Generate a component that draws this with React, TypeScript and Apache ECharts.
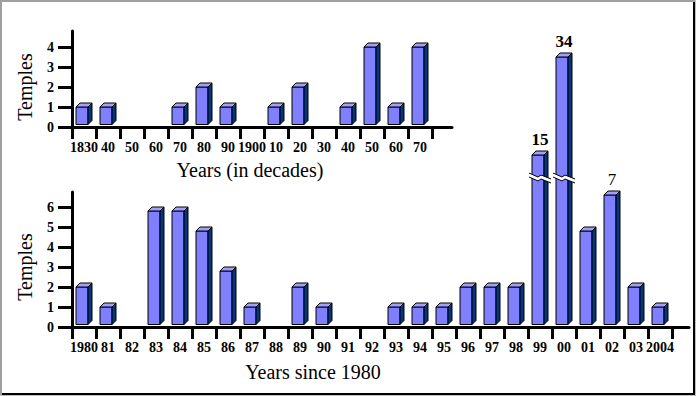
import React, { useEffect, useRef } from 'react';
import * as echarts from 'echarts';

const decadeLabels = ['1830', '40', '50', '60', '70', '80', '90', '1900', '10', '20', '30', '40', '50', '60', '70'];
const decadeTemples = [1, 1, 0, 0, 1, 2, 1, 0, 1, 2, 0, 1, 4, 1, 4];
const decadeTicks = [0, 1, 2, 3, 4];

const yearLabels = ['1980', '81', '82', '83', '84', '85', '86', '87', '88', '89', '90', '91', '92', '93', '94', '95', '96', '97', '98', '99', '00', '01', '02', '03', '2004'];
// drawn heights (99 and 00 are drawn on a broken scale)
const yearBarHeights = [2, 1, 0, 5.8, 5.8, 4.8, 2.8, 1, 0, 2, 1, 0, 0, 1, 1, 1, 2, 2, 2, 8.6, 13.5, 4.8, 6.6, 2, 1];
const yearNotes = ['', '', '', '', '', '', '', '', '', '', '', '', '', '', '', '', '', '', '', '15', '34', '', '7', '', ''];
const yearBroken = [0, 0, 0, 0, 0, 0, 0, 0, 0, 0, 0, 0, 0, 0, 0, 0, 0, 0, 0, 1, 1, 0, 0, 0, 0];
const yearTicks = [0, 1, 2, 3, 4, 5, 6];
const BREAK_AT = 7.45;

const SERIF = '"Liberation Serif", "Times New Roman", serif';
const FRONT = '#8080FF';
const TOP = '#A0A0FF';
const SIDE = '#00357F';

function makeRender(notes: string[], broken: number[]) {
  return (params: any, api: any) => {
    const i = api.value(0);
    const v = api.value(1);
    if (!v) return null;
    const p = api.coord([i, v]);
    const b = api.coord([i, 0]);
    const cx = p[0];
    const yt = p[1];
    const yb = b[1] - 2.5;
    const x0 = cx - 8;
    const x1 = cx + 4;
    const d = 4;
    const stroke = { stroke: '#000', lineWidth: 1 };
    const children: any[] = [
      { type: 'polygon', shape: { points: [[x0, yt], [x1, yt], [x1, yb], [x0, yb]] }, style: { fill: FRONT, ...stroke } },
      { type: 'polygon', shape: { points: [[x0, yt], [x0 + d, yt - d], [x1 + d, yt - d], [x1, yt]] }, style: { fill: TOP, ...stroke } },
      { type: 'polygon', shape: { points: [[x1, yt], [x1 + d, yt - d], [x1 + d, yb - d], [x1, yb]] }, style: { fill: SIDE, ...stroke } },
    ];
    if (broken[i]) {
      const by = api.coord([i, BREAK_AT])[1];
      const up = [[x0 - 3, by - 5], [x0 + 6, by - 1], [x0 + 9, by - 3], [x1 + d + 3, by + 1]];
      const lo = up.map((q) => [q[0], q[1] + 4]);
      children.push({ type: 'polygon', shape: { points: up.concat(lo.slice().reverse()) }, style: { fill: '#fff', stroke: null } });
      children.push({ type: 'polyline', shape: { points: up }, style: { stroke: '#000', lineWidth: 1, fill: null } });
      children.push({ type: 'polyline', shape: { points: lo }, style: { stroke: '#000', lineWidth: 1, fill: null } });
    }
    if (notes[i]) {
      const bold = notes[i] !== '7';
      children.push({
        type: 'text',
        style: {
          text: notes[i], x: cx, y: yt - d - 3,
          font: (bold ? 'bold ' : '') + '17px ' + SERIF,
          fill: '#000', textAlign: 'center', textVerticalAlign: 'bottom', align: 'center', verticalAlign: 'bottom',
        },
      });
    }
    return { type: 'group', children };
  };
}

function xAxisCfg(gridIndex: number, labels: string[], max: number) {
  return {
    type: 'value', gridIndex, min: -0.5, max,
    axisLine: { show: true, onZero: false, lineStyle: { color: '#000', width: 3 } },
    axisTick: { show: true, length: 12, customValues: labels.map((_, i) => i - 0.5).concat([labels.length - 0.5]), lineStyle: { color: '#000', width: 3 } },
    axisLabel: {
      customValues: labels.map((_, i) => i), margin: 13,
      formatter: (val: number) => labels[Math.round(val)] ?? '',
      color: '#000', fontFamily: SERIF, fontWeight: 'bold', fontSize: 14,
    },
    splitLine: { show: false },
  };
}

function yAxisCfg(gridIndex: number, ticks: number[], max: number) {
  return {
    type: 'value', gridIndex, min: 0, max,
    axisLine: { show: true, onZero: false, lineStyle: { color: '#000', width: 3 } },
    axisTick: { show: true, length: 14, customValues: ticks, lineStyle: { color: '#000', width: 3 } },
    axisLabel: { customValues: ticks, margin: 18, color: '#000', fontFamily: SERIF, fontWeight: 'bold', fontSize: 14 },
    splitLine: { show: false },
  };
}

export default function App() {
  const ref = useRef<HTMLDivElement>(null);
  useEffect(() => {
    if (!ref.current) return;
    const chart = echarts.init(ref.current, null, { renderer: 'svg' });
    chart.setOption({
      animation: false,
      backgroundColor: '#fff',
      grid: [
        { left: 72, top: 31, width: 380, height: 96 },
        { left: 72, top: 192, width: 617, height: 135 },
      ],
      xAxis: [xAxisCfg(0, decadeLabels, 15.333), xAxisCfg(1, yearLabels, 25.208)],
      yAxis: [yAxisCfg(0, decadeTicks, 4.8), yAxisCfg(1, yearTicks, 6.75)],
      series: [
        { type: 'custom', xAxisIndex: 0, yAxisIndex: 0, clip: false, renderItem: makeRender(decadeLabels.map(() => ''), decadeLabels.map(() => 0)), data: decadeTemples.map((v, i) => [i, v]) },
        { type: 'custom', xAxisIndex: 1, yAxisIndex: 1, clip: false, renderItem: makeRender(yearNotes, yearBroken), data: yearBarHeights.map((v, i) => [i, v]) },
      ],
      graphic: [
        { type: 'rect', shape: { x: 0, y: 0, width: 696, height: 2 }, style: { fill: '#a0a0a0' } },
        { type: 'rect', shape: { x: 0, y: 0, width: 2, height: 396 }, style: { fill: '#a0a0a0' } },
        { type: 'rect', shape: { x: 2, y: 393, width: 693, height: 2 }, style: { fill: '#000' } },
        { type: 'rect', shape: { x: 693, y: 2, width: 2, height: 393 }, style: { fill: '#000' } },
        { type: 'rect', shape: { x: 0, y: 395, width: 696, height: 1 }, style: { fill: '#c0c0c0' } },
        { type: 'rect', shape: { x: 695, y: 0, width: 1, height: 396 }, style: { fill: '#c0c0c0' } },
        { type: 'text', x: 25, y: 87, rotation: Math.PI / 2, style: { text: 'Temples', font: '20px ' + SERIF, fill: '#000', textAlign: 'center', textVerticalAlign: 'middle' } },
        { type: 'text', x: 25, y: 267, rotation: Math.PI / 2, style: { text: 'Temples', font: '20px ' + SERIF, fill: '#000', textAlign: 'center', textVerticalAlign: 'middle' } },
        { type: 'text', x: 250, y: 170, style: { text: 'Years (in decades)', font: '20px ' + SERIF, fill: '#000', textAlign: 'center', textVerticalAlign: 'middle' } },
        { type: 'text', x: 313, y: 372, style: { text: 'Years since 1980', font: '20px ' + SERIF, fill: '#000', textAlign: 'center', textVerticalAlign: 'middle' } },
      ],
    });
    return () => chart.dispose();
  }, []);
  return <div ref={ref} style={{ position: 'absolute', left: 0, top: 0, width: 696, height: 396 }} />;
}
